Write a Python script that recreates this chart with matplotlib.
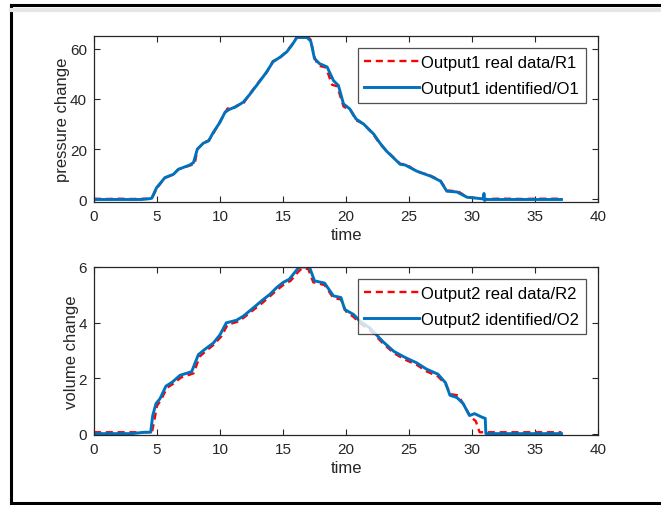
import matplotlib
matplotlib.use("Agg")
import matplotlib.pyplot as plt
from matplotlib.lines import Line2D

plt.rcParams['font.family'] = ['Liberation Sans', 'DejaVu Sans']

# ---- output 1: pressure change ----
t_o1 = [0, 0.5, 1.5, 2.3, 2.8, 3.8, 4.4, 4.58, 4.97, 5.63, 6.3, 6.7, 7.6, 7.9, 8.2, 8.68, 9.1,
        9.47, 10.0, 10.4, 10.7, 11.3, 11.85, 12.4, 13.2, 13.7, 14.2, 14.8, 15.3, 15.7, 16.1,
        16.9, 17.2, 17.5, 17.9, 18.5, 19.0, 19.4, 19.8, 20.3, 20.8, 21.4, 22.2, 22.7, 23.2,
        24.3, 24.7, 25.6, 26.7, 27.5, 28.0, 28.8, 29.6, 30.4, 30.9, 30.95, 31.0, 31.1, 32,
        33, 34, 35, 36, 37.1]
p_o1 = [0, 0, 0, 0, 0, 0, 0.3, 0.5, 4.7, 8.7, 10, 12, 13.7, 14.7, 20, 22.4, 23.3,
        26.7, 30.7, 34.7, 35.7, 37, 38.7, 42, 47.3, 50.7, 54.7, 56.7, 58.7, 61.3, 64.4,
        64.4, 63, 56, 54, 52.7, 47.3, 45.3, 38, 36, 32, 30, 26, 22.4, 19.3,
        14, 13.7, 11.3, 9.3, 7.3, 3.3, 3, 0.9, 0.5, 0.2, 2.4, -0.4, 0, 0,
        0, 0, 0, 0, 0]

t_r1 = [0, 1, 2, 3, 4, 4.5, 4.6, 5.0, 5.6, 6.3, 6.7, 7.6, 8.0, 8.2, 8.7, 9.1, 9.5, 10.0,
        10.4, 10.6, 11.0, 11.3, 11.9, 12.4, 13.2, 13.7, 14.2, 14.8, 15.3, 15.7, 16.1,
        16.4, 16.9, 17.2, 17.5, 17.8, 18.4, 18.9, 19.3, 19.8, 20.4, 20.8, 21.4, 22.2,
        22.7, 23.2, 24.3, 24.8, 25.6, 26.7, 27.5, 28.0, 28.9, 29.6, 30.4, 31.0, 32, 33,
        34, 35, 36, 37.1]
p_r1 = [0.3, 0.2, 0.3, 0.2, 0.3, 0.3, 0.6, 4.5, 8.5, 10, 12, 13.5, 14.2, 20, 22.6, 23.5,
        26.5, 31, 34.5, 36.2, 35.8, 37.2, 38.5, 42.3, 47.5, 50.5, 55, 56.5, 59, 61.5, 64.5,
        65.2, 65, 63.5, 56.5, 53.2, 52.5, 45.6, 45, 37, 35.2, 31.5, 30, 25.7,
        22, 19.5, 14.2, 13.9, 11.2, 9.5, 7.5, 3.6, 3.2, 1.0, 0.5, 0.2, 0.3, 0.3,
        0.2, 0.3, 0.3, 0.3]

# ---- output 2: volume change ----
t_o2 = [0, 1, 2, 3, 4, 4.5, 4.66, 4.92, 5.24, 5.71, 6.2, 6.83, 7.75, 8.28, 8.81, 9.47,
        10.0, 10.5, 11.3, 11.85, 12.65, 13.3, 13.97, 14.5, 15.0, 15.5, 16.1, 16.3, 17.1,
        17.5, 18.3, 19.0, 19.6, 19.9, 20.6, 21.1, 21.9, 22.96, 23.8, 24.7, 25.6, 26.4,
        27.3, 27.9, 28.25, 28.8, 29.3, 29.8, 30.2, 30.8, 31.05, 31.1, 32, 33, 34, 35, 36,
        37.1]
v_o2 = [0.0, 0.0, 0.0, 0.0, 0.05, 0.05, 0.65, 1.08, 1.26, 1.71, 1.85, 2.1, 2.23, 2.84,
        3.04, 3.26, 3.56, 3.99, 4.08, 4.23, 4.53, 4.78, 5.02, 5.26, 5.44, 5.56, 5.9, 6.0,
        6.0, 5.5, 5.42, 4.96, 4.9, 4.47, 4.29, 4.05, 3.8, 3.3, 2.96, 2.74, 2.55, 2.32,
        2.14, 1.83, 1.38, 1.3, 1.08, 0.65, 0.72, 0.59, 0.55, 0.0, 0.0, 0.0, 0.0, 0.0, 0.0,
        0.0]

t_r2 = [0, 1, 2, 3, 4, 4.6, 4.8, 5.0, 5.3, 5.8, 6.3, 6.9, 7.9, 8.4, 8.9, 9.5, 10.1,
        10.6, 11.4, 11.9, 12.7, 13.4, 14.0, 14.6, 15.1, 15.6, 16.2, 16.5, 17.0, 17.4,
        18.3, 19.0, 19.6, 20.0, 20.6, 21.1, 21.9, 23.0, 23.8, 24.7, 25.6, 26.4, 27.3,
        27.9, 28.3, 28.9, 29.4, 29.9, 30.3, 30.6, 30.8, 31.5, 32, 33, 34, 35, 36, 37.1]
v_r2 = [0.05, 0.05, 0.05, 0.05, 0.05, 0.05, 0.5, 1.0, 1.2, 1.65, 1.8, 2.02, 2.17, 2.78,
        2.98, 3.2, 3.5, 3.92, 4.03, 4.18, 4.47, 4.72, 4.96, 5.2, 5.38, 5.5, 5.82, 5.95,
        5.93, 5.45, 5.35, 4.88, 4.83, 4.4, 4.2, 3.98, 3.73, 3.22, 2.9, 2.66, 2.48, 2.24,
        2.06, 1.78, 1.42, 1.38, 1.0, 0.6, 0.45, 0.05, 0.05, 0.05, 0.05, 0.05, 0.05, 0.05,
        0.05, 0.05]

blue = '#0072BD'

fig = plt.figure(figsize=(6.61, 5.06), dpi=100)
ax1 = fig.add_axes([0.1422, 0.5988, 0.7625, 0.3281])
ax2 = fig.add_axes([0.1422, 0.1383, 0.7625, 0.3321])

panels = [
    (ax1, t_r1, p_r1, t_o1, p_o1, 'Output1 real data/R1', 'Output1 identified/O1',
     'pressure change', (-1, 65), [0, 20, 40, 60]),
    (ax2, t_r2, v_r2, t_o2, v_o2, 'Output2 real data/R2', 'Output2 identified/O2',
     'volume change', (-0.05, 6), [0, 2, 4, 6]),
]

for ax, tr, yr, to, yo, lr, lo, ylab, ylim, yt in panels:
    ax.plot(tr, yr, color='red', linestyle=(0, (3, 2)), linewidth=1.7, label=lr)
    ax.plot(to, yo, color=blue, linewidth=2.1, label=lo)
    ax.set_xlim(0, 40)
    ax.set_ylim(*ylim)
    ax.set_xticks([0, 5, 10, 15, 20, 25, 30, 35, 40])
    ax.set_yticks(yt)
    ax.tick_params(direction='in', length=4, width=0.8, top=True, right=True,
                   labelsize=11, colors='#262626', pad=5)
    for s in ax.spines.values():
        s.set_linewidth(0.9)
        s.set_color('#262626')
    ax.set_xlabel('time', fontsize=12, color='#262626', labelpad=3)
    ax.set_ylabel(ylab, fontsize=12, color='#262626', labelpad=0)
    leg = ax.legend(loc='upper right', fontsize=12, handlelength=3.3,
                    borderaxespad=0.75, frameon=True, fancybox=False,
                    handletextpad=0.1, borderpad=0.4, labelspacing=0.65)
    leg.get_frame().set_edgecolor('#262626')
    leg.get_frame().set_linewidth(0.9)

# outer frame
fig.add_artist(Line2D([0.0166, 0.0166], [0.004, 0.988], color='black', linewidth=2.2))
fig.add_artist(Line2D([0.0166, 1.0], [0.988, 0.988], color='black', linewidth=2.2))
fig.add_artist(Line2D([0.0166, 1.0], [0.004, 0.004], color='black', linewidth=2.2))
fig.add_artist(Line2D([0.0166, 1.0], [0.979, 0.979], color='#e6e6e6', linewidth=3))

fig.savefig('out.png', dpi=100)
